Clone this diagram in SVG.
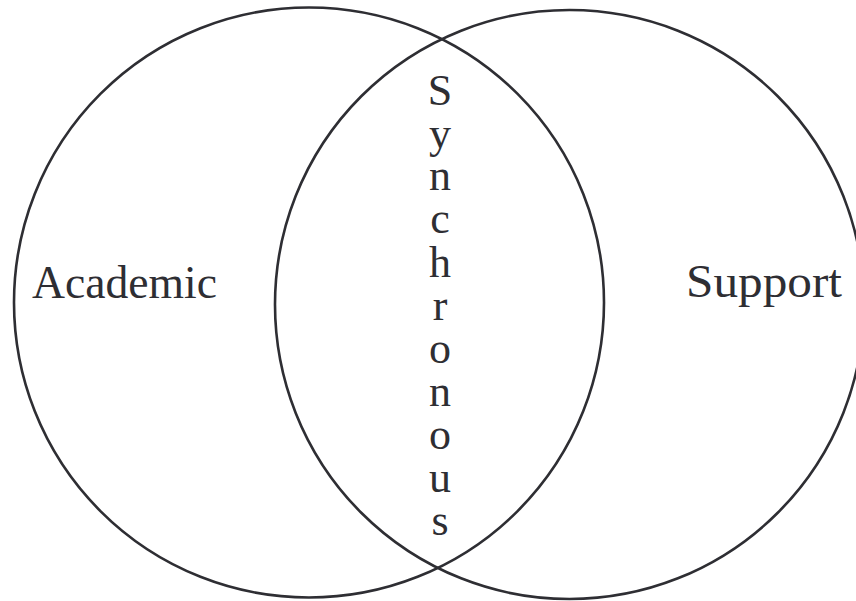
<svg xmlns="http://www.w3.org/2000/svg" width="856" height="601" viewBox="0 0 856 601">
<style>
.c{fill:none;stroke:#2e2e33;stroke-width:2.6}
text{font-family:'Liberation Serif','Times New Roman',serif;fill:#2e2e33}
.t{font-size:46px}
.v{font-size:44px;text-anchor:middle}
</style>
<rect width="856" height="601" fill="#fff"/>
<g id="academic">
<circle class="c" cx="309" cy="302.5" r="295"/>
<text class="t" x="32" y="298" textLength="185" lengthAdjust="spacingAndGlyphs">Academic</text>
</g>
<g id="support">
<circle class="c" cx="569.5" cy="304.5" r="294.5"/>
<text class="t" x="686" y="297" textLength="156" lengthAdjust="spacingAndGlyphs">Support</text>
</g>
<g id="synchronous">
<text class="v" x="440" y="105">S</text>
<text class="v" x="440" y="148">y</text>
<text class="v" x="440" y="190">n</text>
<text class="v" x="440" y="233">c</text>
<text class="v" x="440" y="277">h</text>
<text class="v" x="440" y="320">r</text>
<text class="v" x="440" y="363">o</text>
<text class="v" x="440" y="406">n</text>
<text class="v" x="440" y="449">o</text>
<text class="v" x="440" y="492">u</text>
<text class="v" x="440" y="535">s</text>
</g>
</svg>
